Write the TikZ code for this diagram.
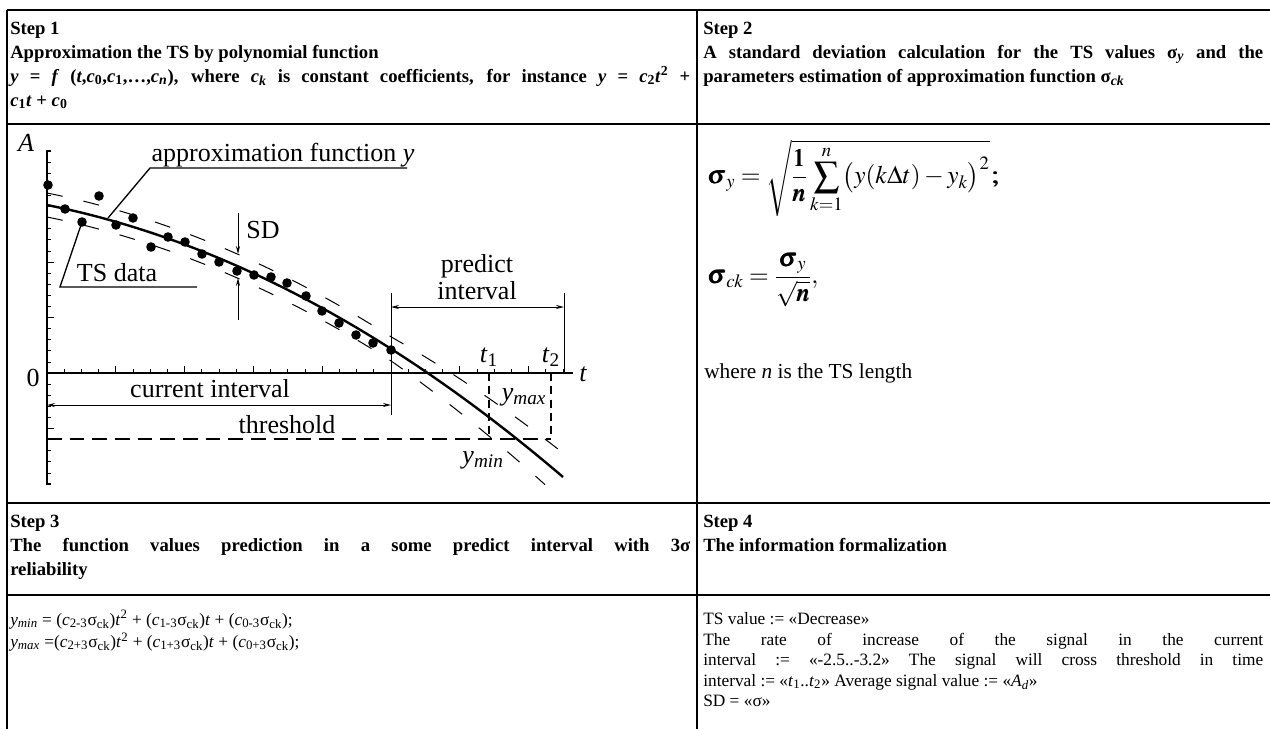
\documentclass[tikz,border=0pt]{standalone}
\usepackage{amsmath}
\usepackage{mathptmx}
\usepackage[no-math]{fontspec}
\setmainfont{Liberation Serif}
\usetikzlibrary{arrows.meta,positioning,calc}

\tikzset{
  rule/.style={line width=1.6pt},
  hdr/.style={anchor=north west,inner sep=0pt,align=justify,text width=510pt,font=\fontsize{14}{18}\selectfont\bfseries},
  body/.style={anchor=north west,inner sep=0pt,align=justify,text width=420pt,font=\fontsize{13}{15.4}\selectfont},
  lbl/.style={inner sep=0pt,font=\fontsize{19.5}{20.5}\selectfont},
  ax/.style={line width=0.8pt},
  dim/.style={line width=0.7pt,<->},
  ext/.style={line width=0.7pt},
  lead/.style={line width=1pt},
  curve/.style={line width=1.8pt},
  band/.style={line width=0.75pt,dash pattern=on 12pt off 16pt},
  thr/.style={line width=1pt,dash pattern=on 11pt off 6pt},
  tdash/.style={line width=1pt,dash pattern=on 6pt off 4pt}
}

\begin{document}
\begin{tikzpicture}[x=0.75pt,y=-0.75pt,>={Stealth[length=6pt,width=3pt]},
  declare function={fy(\x)=205+0.2*(\x-47)+6.34*((\x-47)/100)^2; bw(\x)=12+0.07*max(0,\x-391);}]
\useasboundingbox (0,0) rectangle (1270,729);
\fill[white] (0,0) rectangle (1270,729);

\draw[rule] (7,10) -- (1270,10);
\draw[rule] (7,124) -- (1270,124);
\draw[rule] (7,503) -- (1270,503);
\draw[rule] (7,595) -- (1270,595);
\draw[rule] (7,10) -- (7,729);
\draw[rule] (697,10) -- (697,729);

\node[hdr] (step1) at (10,17) {\strut Step 1\\
Approximation the TS by polynomial function\\
\textit{y} = \textit{f} (\textit{t},\textit{c}\textsubscript{0},\textit{c}\textsubscript{1},\dots,\textit{c\textsubscript{n}}), where \textit{c\textsubscript{k}} is constant coefficients, for instance \textit{y} = \textit{c}\textsubscript{2}\textit{t}\textsuperscript{2} +\linebreak
\textit{c}\textsubscript{1}\textit{t} + \textit{c}\textsubscript{0}};
\node[hdr,text width=420pt] (step2) at (703,17) {\strut Step 2\\
A standard deviation calculation for the TS values σ\textsubscript{\textit{y}} and the\linebreak
parameters estimation of approximation function σ\textsubscript{\textit{ck}}};
\node[hdr] (step3) at (10,510) {\strut Step 3\\
The function values prediction in a some predict interval with 3σ\linebreak
reliability};
\node[hdr,text width=420pt] (step4) at (703,510) {\strut Step 4\\
The information formalization};

\node[anchor=west,inner sep=0pt,font=\fontsize{19}{22}\selectfont] (sigy) at (708,178)
  {$\pmb{\sigma}_{y}=\sqrt{\dfrac{\pmb{1}}{\pmb{n}}\displaystyle\sum_{k=1}^{n}\bigl(y(k\Delta t)-y_{k}\bigr)^{2}}\,\pmb{;}$};
\node[anchor=west,inner sep=0pt,font=\fontsize{19}{22}\selectfont] (sigck) at (708,280)
  {$\pmb{\sigma}_{ck}=\dfrac{\pmb{\sigma}_{y}}{\sqrt{\pmb{n}}},$};
\node[anchor=base west,inner sep=0pt,font=\fontsize{16}{19}\selectfont] (where) at (704,378) {where \textit{n} is the TS length};

\node[body,text width=510pt] (pred) at (10,610) {\strut\textit{y\textsubscript{min}} = (\textit{c}\textsubscript{2-3}σ\textsubscript{ck})\textit{t}\textsuperscript{2} + (\textit{c}\textsubscript{1-3}σ\textsubscript{ck})\textit{t} + (\textit{c}\textsubscript{0-3}σ\textsubscript{ck});\\
\textit{y\textsubscript{max}} =(\textit{c}\textsubscript{2+3}σ\textsubscript{ck})\textit{t}\textsuperscript{2} + (\textit{c}\textsubscript{1+3}σ\textsubscript{ck})\textit{t} + (\textit{c}\textsubscript{0+3}σ\textsubscript{ck});};
\node[body] (info) at (703,610) {\strut TS value := «Decrease»\\
The rate of increase of the signal in the current\linebreak
interval := «-2.5..-3.2» The signal will cross threshold in time\linebreak
interval := «\textit{t}\textsubscript{1}..\textit{t}\textsubscript{2}» Average signal value := «\textit{A\textsubscript{d}}»\\
SD = «σ»};

\draw[ax] (51,151) -- (47,151) -- (47,484) -- (51,484);
\foreach \k in {-9,...,19}{
  \pgfmathsetmacro\tl{mod(\k,5)==0 ? 7 : 4}
  \draw[ax,line width=0.5pt] (47,{373-11.1*\k}) -- ++(\tl,0);
}
\draw[ax] (47,373) -- (573,373);
\foreach \k in {1,...,30}{
  \pgfmathsetmacro\tl{mod(\k,4)==0 ? 7 : 4}
  \draw[ax,line width=0.5pt] ({47+17.2*\k},373) -- ++(0,-\tl);
}
\node[lbl,font=\fontsize{19.5}{20.5}\selectfont\itshape] (A) at (26,143) {A};
\node[lbl] (zero) at (33,378) {0};
\node[lbl,font=\fontsize{19.5}{20.5}\selectfont\itshape] (t) at (583,374) {t};
\node[lbl] (t1) at (489,357) {\textit{t}\textsubscript{1}};
\node[lbl] (t2) at (551,357) {\textit{t}\textsubscript{2}};

\draw[band] plot[domain=47:563,samples=80] (\x,{fy(\x)-bw(\x)});
\draw[band] plot[domain=47:545,samples=80] (\x,{fy(\x)+bw(\x)});
\draw[curve] plot[domain=47:563,samples=80] (\x,{fy(\x)});

\foreach \px/\py in {48/185,65/209,82/222,99/196,116/225,133/218,151/247,168/237,185/242,202/254,219/262,237/271,254/275,271/277,287/283,306/296,322/311,339/323,356/335,373/343,391/350}
  \fill (\px,\py) circle[radius=3.6pt];

\coordinate (fitpt) at (108,218);
\coordinate (datapt) at (82,222);
\draw[lead] (fitpt) -- (150,168) -- (407,168);
\node[lbl,anchor=base] (approx) at (283,161) {approximation function \textit{y}};
\draw[lead] (datapt) -- (60,287) -- (197,287);
\node[lbl,anchor=base] (tsdata) at (117,281) {TS data};

\node[lbl] (sd) at (263,230) {SD};
\draw[ext,->] (238,213) -- (238,254);
\draw[ext,->] (238,320) -- (238,278);

\draw[ext] (391,293) -- (391,415);
\draw[ext] (564,293) -- (564,373);
\draw[dim] (391,307) -- (564,307);
\node[lbl,align=center] (predict) at (477,277) {predict\\interval};
\draw[dim] (47,405) -- (391,405);
\node[lbl] (current) at (210,389) {current interval};

\draw[thr] (47,439) -- (551,439);
\node[lbl] (threshold) at (287,425) {threshold};
\draw[tdash] (489,373) -- (489,439);
\draw[tdash] (551,373) -- (551,439);
\node[lbl] (ymax) at (524,397) {\textit{y\textsubscript{max}}};
\node[lbl] (ymin) at (483,460) {\textit{y\textsubscript{min}}};
\end{tikzpicture}
\end{document}
